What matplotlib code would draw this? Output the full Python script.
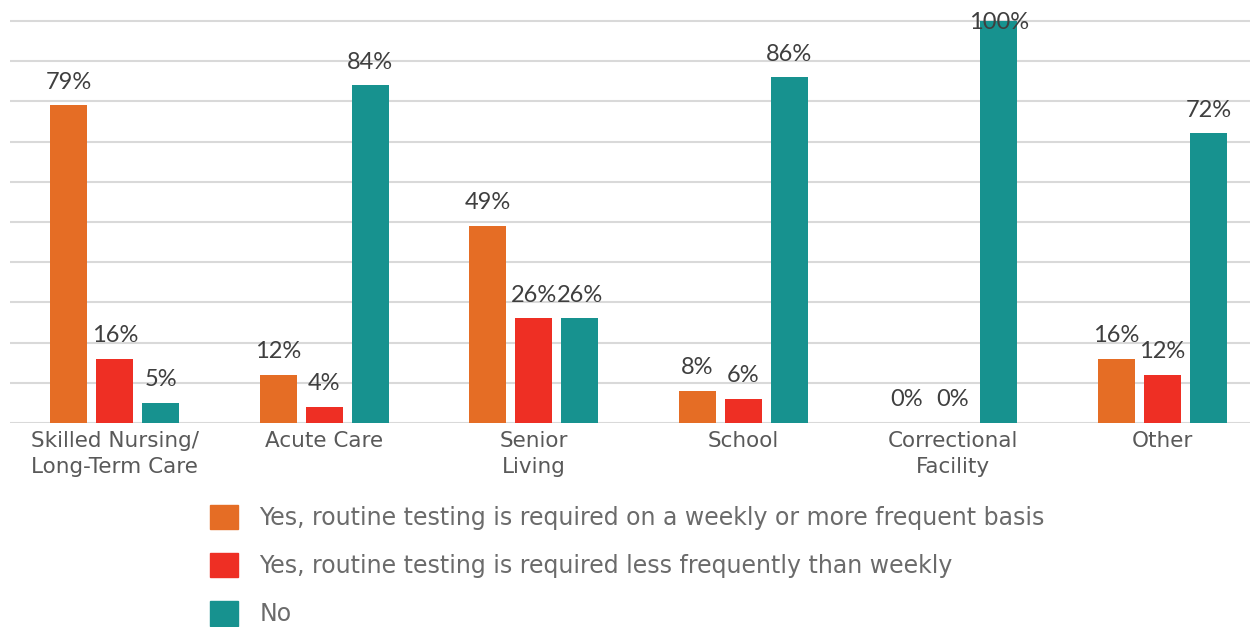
import numpy as np
import matplotlib
matplotlib.use('Agg')
import matplotlib.pyplot as plt
from matplotlib.patches import Patch

categories = ['Skilled Nursing/\nLong-Term Care', 'Acute Care', 'Senior\nLiving',
              'School', 'Correctional\nFacility', 'Other']
weekly = [79, 12, 49, 8, 0, 16]
less_weekly = [16, 4, 26, 6, 0, 12]
no_testing = [5, 84, 26, 86, 100, 72]

series_labels = ['Yes, routine testing is required on a weekly or more frequent basis',
                 'Yes, routine testing is required less frequently than weekly',
                 'No']
colors = ['#E56D25', '#EE2F24', '#17928F']

W, H = 1251, 627
fig = plt.figure(figsize=(W / 100, H / 100), dpi=100)
ax = fig.add_axes([10 / W, 204 / H, 1240 / W, 423 / H])

x = np.arange(len(categories))
width = 0.177
step = 0.22

for i, (vals, col) in enumerate(zip([weekly, less_weekly, no_testing], colors)):
    pos = x + (i - 1) * step
    ax.bar(pos, vals, width, color=col, zorder=3)
    for px, v in zip(pos, vals):
        off = 9 if v < 100 else -9
        ax.annotate(f'{v}%', (px, v), xytext=(0, off), textcoords='offset points',
                    ha='center', va='bottom', fontsize=17, color='#3f3f3f',
                    family='Lato', zorder=4)

ax.set_xlim(-0.5, -0.5 + 1240 / 209.5)
ax.set_ylim(0, 105.2)
ax.set_yticks(np.arange(0, 101, 10))
ax.set_yticklabels([])
ax.grid(axis='y', color='#d9d9d9', linewidth=1.5, zorder=0)
ax.tick_params(length=0, pad=6)
for s in ax.spines.values():
    s.set_visible(False)

ax.set_xticks(x)
ax.set_xticklabels(categories, fontsize=15.5, color='#595959', linespacing=1.35)

handles = [Patch(color=c) for c in colors]
fig.legend(handles, series_labels, loc='upper left', bbox_to_anchor=(210 / W, 1 - 505 / H),
           frameon=False, fontsize=17, labelcolor='#6b6b6b', borderpad=0, borderaxespad=0,
           handlelength=1.2, handleheight=1.2, handletextpad=0.9, labelspacing=0.98)

fig.savefig('out.png', dpi=100)
